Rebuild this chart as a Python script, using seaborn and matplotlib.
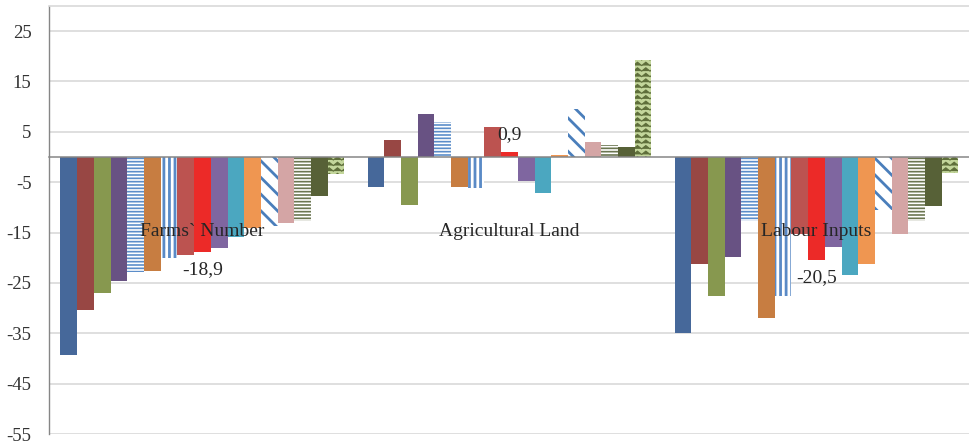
import warnings
import numpy as np
import pandas as pd
import seaborn as sns
import matplotlib.pyplot as plt
from matplotlib import hatch as mhatch
from matplotlib.path import Path

warnings.filterwarnings("ignore")

# data
indicators = ["Farms` Number", "Agricultural Land", "Labour Inputs"]
series = [f"Series {i}" for i in range(1, 18)]
farms = [-39.4, -30.3, -27.0, -24.6, -22.8, -22.6, -20.1, -19.4, -18.9,
         -18.1, -15.8, -14.0, -13.6, -13.2, -12.8, -7.8, -3.4]
land = [-5.9, 3.3, -9.6, 8.5, 7.0, -5.9, -6.1, 6.0, 0.9,
        -4.8, -7.1, 0.3, 9.5, 3.0, 2.3, 2.0, 19.2]
labour = [-34.9, -21.3, -27.6, -19.9, -12.8, -32.0, -27.6, -15.3, -20.5,
          -17.8, -23.5, -21.3, -10.6, -15.2, -12.8, -9.7, -3.2]
labelled_series = "Series 9"
y_ticks = [-55, -45, -35, -25, -15, -5, 5, 15, 25]

# bar styles: (face colour, hatch, hatch colour, hatch linewidth)
styles = [
    ("#46689A", None, None, 0),
    ("#984744", None, None, 0),
    ("#87984F", None, None, 0),
    ("#685283", None, None, 0),
    ("white", "-----", "#5B8DC9", 1.2),
    ("#C77D41", None, None, 0),
    ("white", "|||", "#5A8AC6", 2.0),
    ("#BC5350", None, None, 0),
    ("#EC2A28", None, None, 0),
    ("#7F66A0", None, None, 0),
    ("#4BA7C0", None, None, 0),
    ("#EF9651", None, None, 0),
    ("white", "\\\\", "#4A7EBB", 2.0),
    ("#D4A5A5", None, None, 0),
    ("white", "-----", "#6B7650", 1.2),
    ("#576137", None, None, 0),
    ("#C3D69B", "zzz", "#5E6E3A", 0.8),
]


# Excel-like zigzag fill, registered as an extra hatch type ('z')
class ZigzagHatch(mhatch.HatchPatternBase):
    def __init__(self, hatch, density):
        self.num_rows = int(hatch.count('z') * density)
        self.num_teeth = int(self.num_rows * 2 / 3)
        self.num_vertices = self.num_rows * (2 * self.num_teeth + 1)

    def set_vertices_and_codes(self, vertices, codes):
        n = 2 * self.num_teeth + 1
        xs = np.linspace(0, 1, n)
        amp = 0.3 / self.num_rows
        bump = np.where(np.arange(n) % 2 == 1, amp, -amp)
        for r in range(self.num_rows):
            y = (r + 0.5) / self.num_rows
            vertices[r * n:(r + 1) * n, 0] = xs
            vertices[r * n:(r + 1) * n, 1] = y + bump
            codes[r * n] = Path.MOVETO
            codes[r * n + 1:(r + 1) * n] = Path.LINETO


mhatch._hatch_types.append(ZigzagHatch)

rows = []
for ind, vals in zip(indicators, [farms, land, labour]):
    for s, v in zip(series, vals):
        rows.append({"indicator": ind, "series": s, "value": v})
df = pd.DataFrame(rows)

sns.set_style("white")
plt.rcParams['font.family'] = ['Liberation Serif', 'DejaVu Serif']

fig = plt.figure(figsize=(9.7, 4.45), dpi=100)
ax = fig.add_axes([0.0505, 0.0247, 0.9495, 0.962])

sns.barplot(data=df, x="indicator", y="value", hue="series",
            order=indicators, hue_order=series,
            palette=[s[0] for s in styles], saturation=1,
            width=0.925, errorbar=None, legend=False, ax=ax)

for cont, (face, htch, hcol, hlw) in zip(ax.containers, styles):
    for bar in cont:
        bar.set_facecolor(face)
        bar.set_linewidth(0)
        if htch:
            bar.set_edgecolor(hcol)
            bar.set_hatch(htch)
            if hasattr(bar, "set_hatch_linewidth"):
                bar.set_hatch_linewidth(hlw)
            else:
                plt.rcParams['hatch.linewidth'] = hlw

# data labels for the highlighted series
idx = series.index(labelled_series)
ax.bar_label(ax.containers[idx],
             labels=[f"{v:.1f}".replace(".", ",") for v in ax.containers[idx].datavalues],
             padding=6.5, fontsize=14, color="#262626", zorder=5)

# category names drawn over the bars
for i, name in enumerate(indicators):
    ax.text(i, -14.8, name, ha="center", va="center", fontsize=14,
            color="#262626", zorder=5)

ax.set_ylim(-55, 30)
ax.set_xlim(-0.5, 2.5)
ax.set_yticks(y_ticks)
ax.set_yticklabels([str(t) for t in y_ticks], fontsize=13.5, color="#333333")
ax.set_xticks(range(len(indicators)))
ax.set_xticklabels([])
ax.set_xticks([0.5, 1.5], minor=True)
ax.tick_params(axis="x", which="major", length=0)
ax.tick_params(axis="x", which="minor", length=4, color="#868686", direction="out")
ax.tick_params(axis="y", length=4.5, color="#868686", direction="out", pad=8)
ax.set_xlabel("")
ax.set_ylabel("")

ax.set_axisbelow(True)
ax.yaxis.grid(True, color="#D9D9D9", linewidth=1.2)
ax.spines["bottom"].set_position(("data", 0))
ax.spines["bottom"].set_color("#868686")
ax.spines["bottom"].set_linewidth(1.1)
ax.spines["left"].set_color("#868686")
ax.spines["left"].set_linewidth(1.0)
ax.spines["top"].set_color("#D9D9D9")
ax.spines["top"].set_linewidth(1.2)
ax.spines["right"].set_visible(False)

fig.savefig("out.png", dpi=100)
